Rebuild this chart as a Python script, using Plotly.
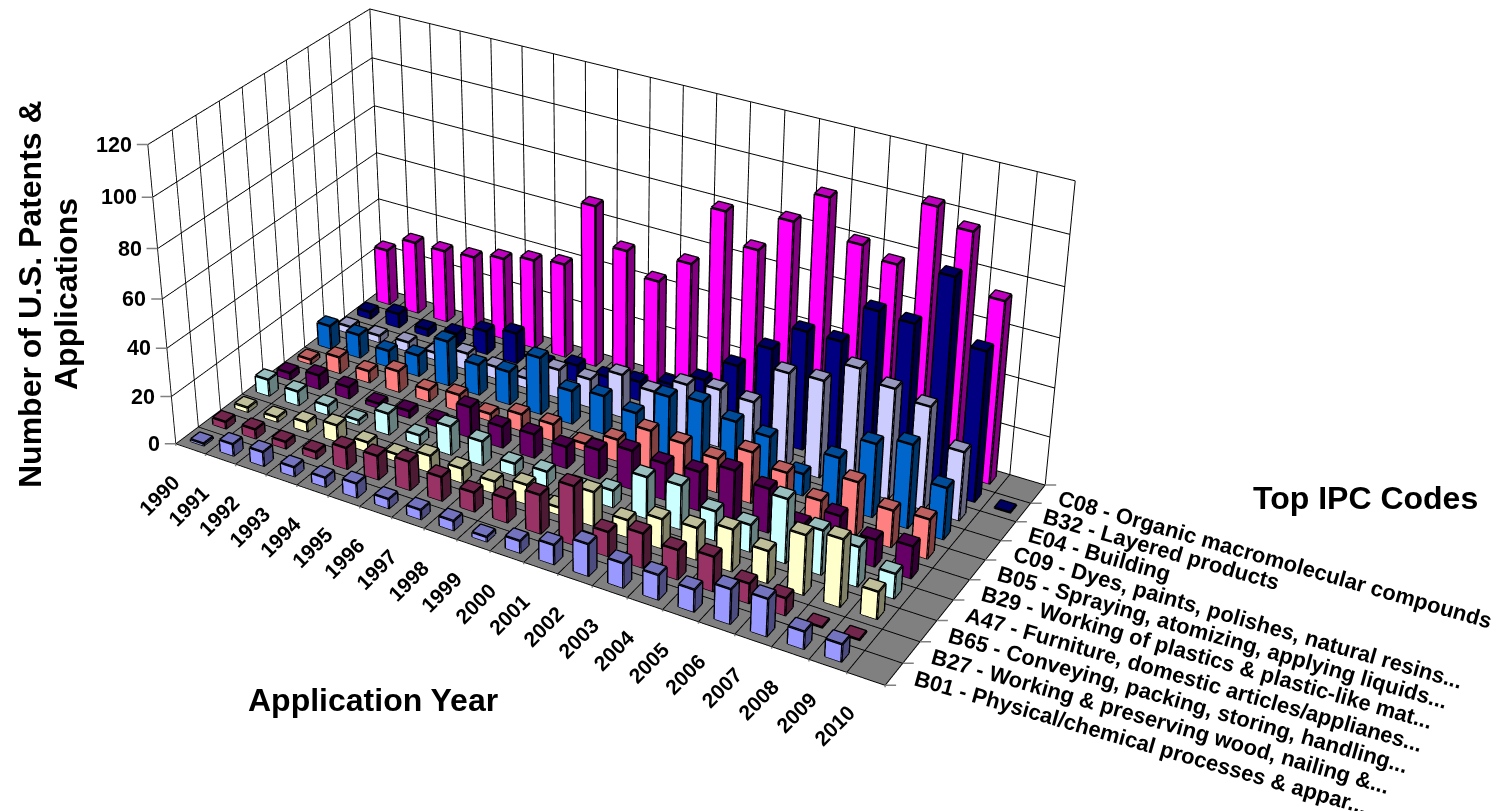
import plotly.graph_objects as go

years = [str(y) for y in range(1990, 2011)]
codes = ["B01 - Physical/chemical processes & appar...",
         "B27 - Working & preserving wood, nailing &...",
         "B65 - Conveying, packing, storing, handling...",
         "A47 - Furniture, domestic articles/applianes...",
         "B29 - Working of plastics & plastic-like mat...",
         "B05 - Spraying, atomizing, applying liquids...",
         "C09 - Dyes, paints, polishes, natural resins...",
         "E04 - Building",
         "B32 - Layered products",
         "C08 - Organic macromolecular compounds"]
z_ticks = [0, 20, 40, 60, 80, 100, 120]

B01 = [1, 5, 6, 4, 4, 6, 4, 4, 4, 2, 5, 8, 13, 10, 10, 9, 14, 15, 7, 7, 0]
B27 = [3, 4, 3, 3, 9, 10, 12, 10, 8, 10, 16, 24, 10, 14, 12, 14, 8, 7, 0.3, 0.3, 0]
B65 = [2, 2, 4, 7, 4, 3, 7, 6, 5, 8, 3, 14, 7, 12, 13, 17, 13, 24, 27, 11, 0]
A47 = [7, 6, 4, 2, 9, 4, 12, 10, 5, 6, 4, 7, 17, 18, 12, 11, 26, 18, 16, 10, 0]
B29 = [3, 6, 5, 2, 3, 3, 13, 9, 10, 9, 12, 16, 15, 16, 21, 18, 8, 16, 11, 13, 0]
B05 = [2, 7, 5, 9, 5, 7, 3, 7, 7, 3, 9, 17, 16, 14, 21, 17, 10, 22, 15, 16, 0]
C09 = [10, 10, 7, 9, 19, 13, 14, 24, 14, 16, 13, 24, 26, 22, 20, 9, 20, 30, 34, 21, 0]
E04 = [3, 3, 4, 3, 7, 5, 4, 12, 12, 18, 15, 22, 24, 23, 39, 40, 49, 45, 42, 28, 0]
B32 = [3, 6, 3, 5, 10, 13, 4, 7, 6, 8, 11, 17, 27, 38, 49, 49, 65, 64, 86, 61, 0.3]
C08 = [24, 31, 31, 32, 35, 38, 40, 68, 53, 44, 55, 80, 68, 83, 96, 81, 77, 103, 97, 74, 0]
series = [B01, B27, B65, A47, B29, B05, C09, E04, B32, C08]
colors = [(153, 153, 255), (153, 51, 102), (255, 255, 204), (204, 255, 255), (102, 0, 102),
          (255, 128, 128), (0, 102, 204), (204, 204, 255), (0, 0, 128), (255, 0, 255)]

FONT = "Liberation Sans"
W, H, LEFT, TOP = 1796, 2250, -297, -790


def shade(c, k):
    return "rgb(%d,%d,%d)" % tuple(round(v * k) for v in c)


def px(x):
    return (x - LEFT) / W


def py(y):
    return 1 - (y - TOP) / H


GAP_X, GAP_Y = 0.285, 0.3
fig = go.Figure()
for j, (vals, col) in enumerate(zip(series, colors)):
    vx, vy, vz, fi, fj, fk, fc = [], [], [], [], [], [], []
    lx, ly, lz = [], [], []
    for i, v in enumerate(vals):
        if v <= 0:
            continue
        x0, x1, y0, y1 = i + GAP_X, i + 1 - GAP_X, j + GAP_Y, j + 1 - GAP_Y
        n = len(vx)
        vx += [x0, x1, x1, x0, x0, x1, x1, x0]
        vy += [y0, y0, y1, y1, y0, y0, y1, y1]
        vz += [0, 0, 0, 0, v, v, v, v]
        quads = [((0, 1, 5, 4), 1.0), ((1, 2, 6, 5), 0.5), ((4, 5, 6, 7), 0.75)]
        for (a, b, c, d), k in quads:
            fi += [n + a, n + a]
            fj += [n + b, n + c]
            fk += [n + c, n + d]
            fc += [shade(col, k)] * 2
        for path in [(0, 1, 2), (4, 5, 6, 7, 4), (0, 4), (1, 5), (2, 6)]:
            lx += [vx[n + p] for p in path] + [None]
            ly += [vy[n + p] for p in path] + [None]
            lz += [vz[n + p] for p in path] + [None]
    fig.add_trace(go.Mesh3d(x=vx, y=vy, z=vz, i=fi, j=fj, k=fk, facecolor=fc, flatshading=True,
                            lighting=dict(ambient=1, diffuse=0, specular=0, fresnel=0, roughness=1),
                            hoverinfo="skip", showscale=False, name=codes[j]))
    fig.add_trace(go.Scatter3d(x=lx, y=ly, z=lz, mode="lines", line=dict(color="black", width=5),
                               hoverinfo="skip", showlegend=False))

ann = []
year_font = dict(family=FONT, size=21, color="black")
code_font = dict(family=FONT, size=22, color="black")
z_font = dict(family=FONT, size=21.5, color="black")
for i, y in enumerate(years):
    ann.append(dict(x=i + 0.5, y=0, z=0, text="<b>%s</b>" % y, showarrow=False, textangle=-45,
                    xanchor="right", yanchor="top", xshift=-4, yshift=-19, font=year_font))
for i in range(len(years) + 1):
    ann.append(dict(x=i, y=0, z=0, text=" ", showarrow=True, arrowhead=0, arrowwidth=1.5,
                    arrowcolor="#808080", ax=0, ay=12, standoff=0))
for j, c in enumerate(codes):
    ann.append(dict(x=len(years), y=j + 0.5, z=0, text="<b>%s</b>" % c, showarrow=False, textangle=16,
                    xanchor="left", yanchor="top", xshift=15, yshift=11, font=code_font))
for j in range(len(codes) + 1):
    ann.append(dict(x=len(years), y=j, z=0, text=" ", showarrow=True, arrowhead=0, arrowwidth=1.5,
                    arrowcolor="#808080", ax=14, ay=0, standoff=0))
for z in z_ticks:
    ann.append(dict(x=0, y=0, z=z, text="<b>%d</b>" % z, showarrow=False, xanchor="right", yanchor="middle",
                    xshift=-14, font=z_font))
    ann.append(dict(x=0, y=0, z=z, text=" ", showarrow=True, arrowhead=0, arrowwidth=1.5,
                    arrowcolor="#808080", ax=-14, ay=0, standoff=0))

axis = dict(showticklabels=False, ticks="", title=dict(text=""), gridcolor="black", gridwidth=2,
            zeroline=False, showline=False, showspikes=False, autorange=False)
k = 3.0
title_font = dict(family=FONT, size=32, color="black")
fig.update_layout(
    width=W, height=H, margin=dict(l=0, r=0, t=0, b=0), paper_bgcolor="white", showlegend=False,
    scene=dict(
        domain=dict(x=[0, 1], y=[0, 1]),
        aspectmode="manual", aspectratio=dict(x=0.28705 * k, y=0.13532 * k, z=0.12255 * k),
        camera=dict(eye=dict(x=0.41608 * k, y=-0.71765 * k, z=0.47733 * k),
                    center=dict(x=0.00016 * k, y=-0.00336 * k, z=-0.00511 * k), up=dict(x=0, y=0, z=1)),
        xaxis=dict(axis, range=[0, 21], tickvals=list(range(22)), showbackground=True, backgroundcolor="white"),
        yaxis=dict(axis, range=[0, 10], tickvals=list(range(11)), showbackground=True, backgroundcolor="white"),
        zaxis=dict(axis, range=[0, 120], tickvals=z_ticks, showbackground=True, backgroundcolor="#808080"),
        annotations=ann,
    ),
    annotations=[
        dict(xref="paper", yref="paper", x=px(373), y=py(700), text="<b>Application Year</b>", showarrow=False,
             xanchor="center", yanchor="middle", font=title_font),
        dict(xref="paper", yref="paper", x=px(1365), y=py(498), text="<b>Top IPC Codes</b>", showarrow=False,
             xanchor="center", yanchor="middle", font=title_font),
        dict(xref="paper", yref="paper", x=px(30), y=py(294), text="<b>Number of U.S. Patents &</b>",
             showarrow=False, textangle=-90, xanchor="center", yanchor="middle", font=title_font),
        dict(xref="paper", yref="paper", x=px(66), y=py(294), text="<b>Applications</b>",
             showarrow=False, textangle=-90, xanchor="center", yanchor="middle", font=title_font),
    ],
)
post = ("var gd=document.getElementById('{plot_id}');gd.style.position='absolute';"
        "gd.style.left='%dpx';gd.style.top='%dpx';"
        "document.body.style.overflow='hidden';document.documentElement.style.overflow='hidden';" % (LEFT, TOP))
fig.write_html("out.html", post_script=post, config=dict(displayModeBar=False))
